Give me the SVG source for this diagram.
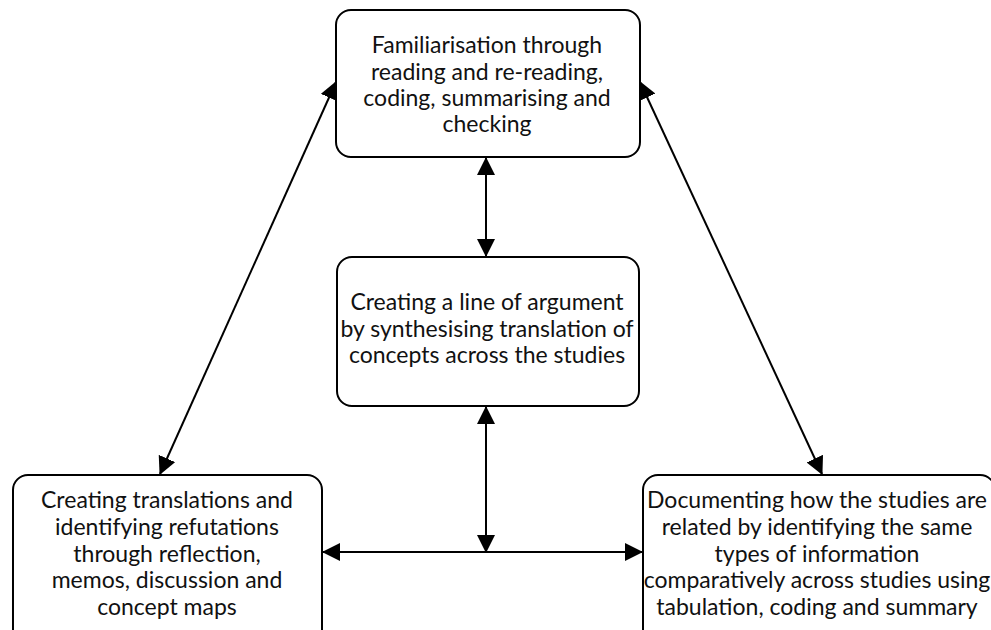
<svg xmlns="http://www.w3.org/2000/svg" width="991" height="630" viewBox="0 0 991 630">
<defs>
<style>
.box{fill:#fff;stroke:#000;stroke-width:2}
.t{font-family:Lato,"Liberation Sans",sans-serif;font-size:23px;fill:#111;text-anchor:middle}
.c{stroke:#000;stroke-width:2;fill:none;marker-start:url(#a);marker-end:url(#a)}
</style>
<marker id="a" viewBox="0 0 18 18" refX="17" refY="9" markerWidth="18" markerHeight="18" markerUnits="userSpaceOnUse" orient="auto-start-reverse">
<path d="M0,0 L18,9 L0,18 Z" fill="#000"/>
</marker>
</defs>
<g id="connectors">
<line class="c" x1="486" y1="158" x2="486" y2="256"/>
<line class="c" x1="486" y1="407" x2="486" y2="552"/>
<line class="c" x1="323" y1="552" x2="642" y2="552"/>
<line class="c" x1="336" y1="82" x2="160" y2="474"/>
<line class="c" x1="640" y1="82" x2="822" y2="474"/>
</g>
<g id="top">
<rect class="box" x="336" y="10" width="304" height="147" rx="15"/>
<text class="t" x="487" y="53">Familiarisation through</text>
<text class="t" x="487" y="80">reading and re-reading,</text>
<text class="t" x="487" y="106">coding, summarising and</text>
<text class="t" x="487" y="132">checking</text>
</g>
<g id="middle">
<rect class="box" x="337" y="257" width="302" height="149" rx="15"/>
<text class="t" x="487" y="310">Creating a line of argument</text>
<text class="t" x="487" y="337">by synthesising translation of</text>
<text class="t" x="487" y="363">concepts across the studies</text>
</g>
<g id="left">
<rect class="box" x="13" y="475" width="309" height="170" rx="15"/>
<text class="t" x="167" y="508">Creating translations and</text>
<text class="t" x="167" y="535">identifying refutations</text>
<text class="t" x="167" y="562">through reflection,</text>
<text class="t" x="167" y="588">memos, discussion and</text>
<text class="t" x="167" y="615">concept maps</text>
</g>
<g id="right">
<rect class="box" x="643" y="475" width="352" height="170" rx="15"/>
<text class="t" x="817" y="508">Documenting how the studies are</text>
<text class="t" x="817" y="535">related by identifying the same</text>
<text class="t" x="817" y="562">types of information</text>
<text class="t" x="817" y="588">comparatively across studies using</text>
<text class="t" x="817" y="615">tabulation, coding and summary</text>
</g>
</svg>
